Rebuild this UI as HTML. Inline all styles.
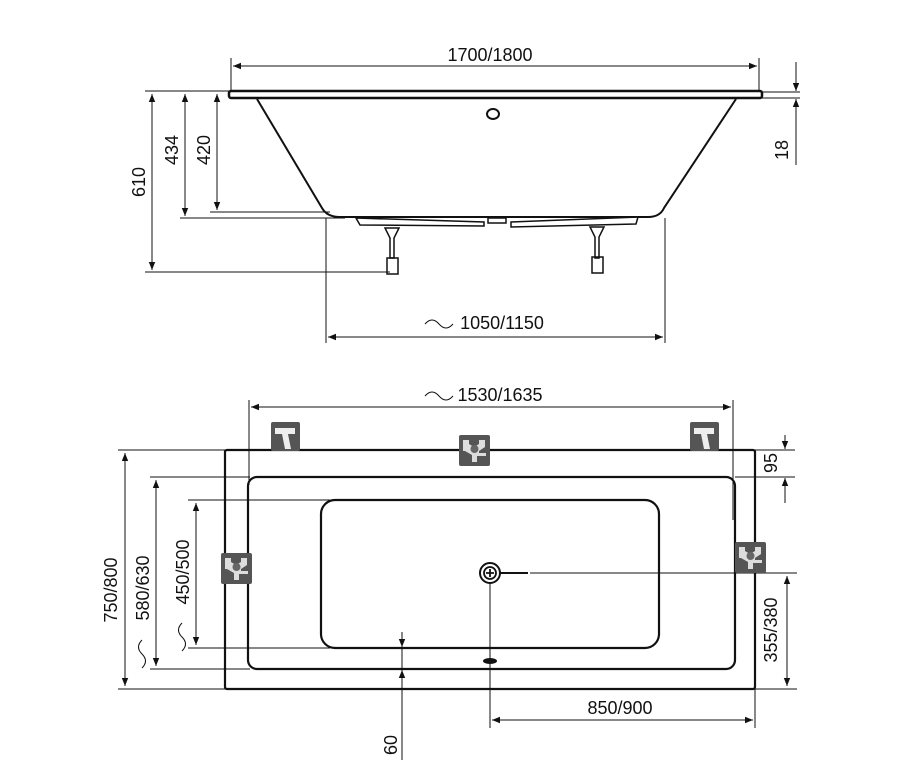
<!DOCTYPE html>
<html><head><meta charset="utf-8"><style>html,body{margin:0;padding:0;background:#fff}svg{display:block}text{font-family:"Liberation Sans",sans-serif;font-size:18px;fill:#111}</style></head>
<body>
<svg width="900" height="782" viewBox="0 0 900 782" xmlns="http://www.w3.org/2000/svg">
<defs>
<marker id="a" viewBox="0 0 10 10" refX="10" refY="5" markerWidth="12" markerHeight="8" orient="auto-start-reverse" markerUnits="userSpaceOnUse"><path d="M0,1 L10,5 L0,9 Z" fill="#111"/></marker>
<g id="tap"><rect x="0" y="0" width="29" height="29" rx="2" fill="#555"/><path d="M4,6 H24 V12 H17 L20,27 H14 L11,12 H4Z" fill="#eee"/></g>
<g id="valve"><rect x="0" y="0" width="31" height="31" rx="2" fill="#555"/><path d="M4,5 H10 V9 L15,12 L20,9 V5 H26 V12 L20,16 V18 H27 V21 H18 V27 H13 V20 L6,16 H4Z" fill="#ddd"/><circle cx="15.5" cy="14" r="4" fill="#666"/></g>
</defs>
<g stroke="#111" fill="none" stroke-width="1">
<line x1="231" y1="58" x2="231" y2="91"/><line x1="759" y1="58" x2="759" y2="91"/>
<line x1="233" y1="66" x2="757" y2="66" marker-start="url(#a)" marker-end="url(#a)"/>
<rect x="229" y="91" width="533" height="7" rx="2" stroke-width="2.5"/>
<path d="M257,99 L322,208 Q327,217 340,217 L648,217 Q660,217 664,208 L736,99" stroke-width="2"/>
<path d="M356,218 L484,222 L484,226 L360,225 Z M488,218 L506,218 L506,223 L488,223Z M511,222 L638,217 L636,224 L511,227Z" stroke-width="1.5" fill="#fff"/>
<path d="M385,228 L399,228 L394,238 L394,258 L390,258 L390,238Z M590,227 L604,227 L599,237 L599,258 L595,258 L595,237Z" stroke-width="1.5"/>
<rect x="387" y="258" width="11" height="16" stroke-width="1.5"/><rect x="592" y="257" width="11" height="16" stroke-width="1.5"/>
<ellipse cx="493" cy="114" rx="6" ry="5" stroke-width="2"/>
<line x1="145" y1="91" x2="229" y2="91"/>
<line x1="152" y1="94" x2="152" y2="270" marker-start="url(#a)" marker-end="url(#a)"/>
<line x1="145" y1="272" x2="390" y2="272"/>
<line x1="185" y1="94" x2="185" y2="216" marker-start="url(#a)" marker-end="url(#a)"/>
<line x1="180" y1="218" x2="345" y2="218"/>
<line x1="217" y1="94" x2="217" y2="210" marker-start="url(#a)" marker-end="url(#a)"/>
<line x1="210" y1="212" x2="330" y2="212"/>
<line x1="762" y1="92" x2="800" y2="92"/><line x1="762" y1="98" x2="800" y2="98"/>
<line x1="796" y1="62" x2="796" y2="91" marker-end="url(#a)"/>
<line x1="796" y1="165" x2="796" y2="99" marker-end="url(#a)"/>
<line x1="326" y1="218" x2="326" y2="343"/><line x1="665" y1="218" x2="665" y2="343"/>
<line x1="328" y1="337" x2="663" y2="337" marker-start="url(#a)" marker-end="url(#a)"/>
<path d="M425,324 q7,-8 14,0 t14,0"/>
<line x1="249" y1="400" x2="249" y2="485"/><line x1="733" y1="400" x2="733" y2="520"/>
<line x1="251" y1="407" x2="731" y2="407" marker-start="url(#a)" marker-end="url(#a)"/>
<path d="M425,396 q7,-8 14,0 t14,0"/>
<rect x="225" y="450" width="530" height="239" rx="2" stroke-width="2.2"/>
<rect x="248" y="477" width="487" height="192" rx="9" stroke-width="2.2"/>
<rect x="321" y="500" width="338" height="148" rx="14" stroke-width="2.2"/>
<line x1="118" y1="450" x2="225" y2="450"/><line x1="118" y1="689" x2="225" y2="689"/>
<line x1="125" y1="453" x2="125" y2="686" marker-start="url(#a)" marker-end="url(#a)"/>
<line x1="150" y1="477" x2="250" y2="477"/><line x1="150" y1="669" x2="250" y2="669"/>
<line x1="156" y1="480" x2="156" y2="666" marker-start="url(#a)" marker-end="url(#a)"/>
<line x1="188" y1="500" x2="330" y2="500"/><line x1="188" y1="648" x2="330" y2="648"/>
<line x1="196" y1="503" x2="196" y2="645" marker-start="url(#a)" marker-end="url(#a)"/>
<path d="M142,640 q-7,7 0,14 t0,14 M182,623 q-7,7 0,14 t0,14"/>
<line x1="755" y1="450" x2="795" y2="450"/><line x1="735" y1="477" x2="795" y2="477"/>
<line x1="785" y1="435" x2="785" y2="449" marker-end="url(#a)"/>
<line x1="785" y1="503" x2="785" y2="478" marker-end="url(#a)"/>
<line x1="530" y1="573" x2="797" y2="573"/>
<line x1="787" y1="576" x2="787" y2="686" marker-start="url(#a)" marker-end="url(#a)"/>
<line x1="755" y1="689" x2="797" y2="689"/>
<line x1="490" y1="583" x2="490" y2="728"/><line x1="755" y1="689" x2="755" y2="728"/>
<line x1="492" y1="720" x2="753" y2="720" marker-start="url(#a)" marker-end="url(#a)"/>
<line x1="402" y1="632" x2="402" y2="647" marker-end="url(#a)"/>
<line x1="402" y1="760" x2="402" y2="670" marker-end="url(#a)"/>
<line x1="402" y1="648" x2="402" y2="669"/>
<circle cx="490" cy="573" r="10" stroke-width="2"/><circle cx="490" cy="573" r="6" stroke-width="1.8"/>
<path d="M486,573 H494 M490,569 V577" stroke-width="1.8"/>
<line x1="500" y1="573" x2="528" y2="573" stroke-width="2"/>
</g>
<ellipse cx="490" cy="661" rx="7" ry="3" fill="#111"/>
<use href="#tap" x="271" y="422"/><use href="#tap" x="690" y="422"/>
<use href="#valve" x="459" y="435"/><use href="#valve" x="221" y="553"/><use href="#valve" x="735" y="542"/>
<text x="490" y="61" text-anchor="middle">1700/1800</text>
<text x="502" y="329" text-anchor="middle">1050/1150</text>
<text x="500" y="401" text-anchor="middle">1530/1635</text>
<text x="620" y="714" text-anchor="middle">850/900</text>
<text transform="translate(145,182) rotate(-90)" text-anchor="middle">610</text>
<text transform="translate(178,150) rotate(-90)" text-anchor="middle">434</text>
<text transform="translate(210,150) rotate(-90)" text-anchor="middle">420</text>
<text transform="translate(788,150) rotate(-90)" text-anchor="middle">18</text>
<text transform="translate(777,463) rotate(-90)" text-anchor="middle">95</text>
<text transform="translate(777,630) rotate(-90)" text-anchor="middle">355/380</text>
<text transform="translate(117,590) rotate(-90)" text-anchor="middle">750/800</text>
<text transform="translate(149,588) rotate(-90)" text-anchor="middle">580/630</text>
<text transform="translate(189,572) rotate(-90)" text-anchor="middle">450/500</text>
<text transform="translate(397,745) rotate(-90)" text-anchor="middle">60</text>
</svg>
</body></html>
